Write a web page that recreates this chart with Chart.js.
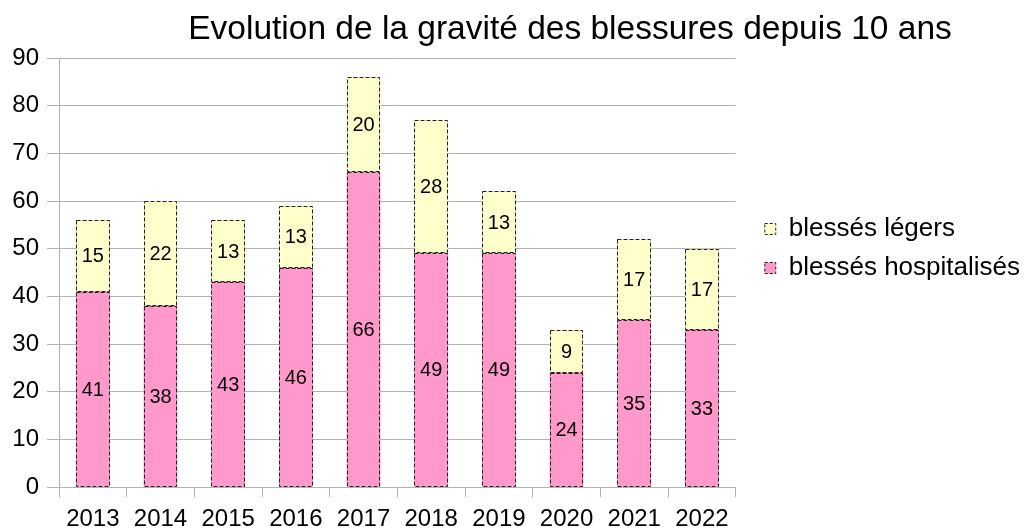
<!DOCTYPE html>
<html>
<head>
<meta charset="utf-8">
<script src="https://cdn.jsdelivr.net/npm/chart.js@4/dist/chart.umd.min.js"></script>
<style>
    html, body { margin: 0; padding: 0; background: #fff; }
    #wrap { width: 1025px; height: 531px; }
</style>
</head>
<body>
<div id="wrap"><canvas id="chart"></canvas></div>
<script>
// ── Data ──────────────────────────────────────────────────────────────────────
const years        = ['2013','2014','2015','2016','2017','2018','2019','2020','2021','2022'];
const hospitalises = [41, 38, 43, 46, 66, 49, 49, 24, 35, 33];
const legers       = [15, 22, 13, 13, 20, 28, 13,  9, 17, 17];
const yTicks       = [0, 10, 20, 30, 40, 50, 60, 70, 80, 90];

const TITLE     = 'Evolution de la gravité des blessures depuis 10 ans';
const FONT      = '"Liberation Sans", Arial, sans-serif';
const GRID      = '#b3b3b3';
const DASH      = [4, 2];
const PINK      = '#ff99cc';
const YELLOW    = '#ffffcc';

// ── Plugins ───────────────────────────────────────────────────────────────────
// dashed outline around each bar segment + value in the middle
const barDecor = {
    id: 'barDecor',
    afterDatasetsDraw(chart) {
        const ctx = chart.ctx;
        ctx.save();
        chart.data.datasets.forEach((ds, i) => {
            const meta = chart.getDatasetMeta(i);
            meta.data.forEach((el, j) => {
                const { x, y, base, width } = el.getProps(['x', 'y', 'base', 'width'], true);
                const left = Math.round(x - width / 2) + 0.5;
                const right = Math.round(x + width / 2) - 0.5;
                const top = Math.round(y) + 0.5;
                const bot = Math.round(base) - 0.5;
                ctx.setLineDash(DASH);
                ctx.lineWidth = 1;
                ctx.strokeStyle = '#222';
                ctx.strokeRect(left, top, right - left, bot - top);

                ctx.setLineDash([]);
                ctx.fillStyle = '#000';
                ctx.font = '20px ' + FONT;
                ctx.textAlign = 'center';
                ctx.textBaseline = 'middle';
                ctx.fillText(String(ds.data[j]), x, (y + base) / 2 + 1);
            });
        });
        ctx.restore();
    }
};

// title centred like the original (slightly right of the canvas centre)
const titleDraw = {
    id: 'titleDraw',
    afterDraw(chart) {
        const ctx = chart.ctx;
        ctx.save();
        ctx.fillStyle = '#000';
        ctx.font = '33.5px ' + FONT;
        ctx.textAlign = 'center';
        ctx.textBaseline = 'alphabetic';
        ctx.fillText(TITLE, 570, 39);
        ctx.restore();
    }
};

// move the legend to where the original has it, and give it room for its text
const legendShift = {
    id: 'legendShift',
    afterLayout(chart) {
        const lg = chart.legend;
        if (!lg) return;
        lg.left += 16;
        lg.right = chart.width;
        lg.width = lg.right - lg.left;
        lg.top -= 46; lg.bottom -= 46;
    }
};

new Chart(document.getElementById('chart'), {
    type: 'bar',
    data: {
        labels: years,
        datasets: [
            {
                label: 'blessés hospitalisés',
                data: hospitalises,
                backgroundColor: PINK,
                borderWidth: 0,
            },
            {
                label: 'blessés légers',
                data: legers,
                backgroundColor: YELLOW,
                borderWidth: 0,
            },
        ],
    },
    options: {
        responsive: true,
        maintainAspectRatio: false,
        animation: false,
        layout: { padding: { top: 58, right: 44, left: 0, bottom: 0 } },
        datasets: { bar: { categoryPercentage: 1, barPercentage: 0.5 } },
        plugins: {
            title: { display: false },
            tooltip: { enabled: false },
            legend: {
                position: 'right',
                reverse: true,
                labels: {
                    color: '#000',
                    font: { family: FONT, size: 26 },
                    boxWidth: 11,
                    boxHeight: 11,
                    padding: 13,
                    generateLabels(chart) {
                        const items = Chart.defaults.plugins.legend.labels.generateLabels(chart);
                        return items.map(it => ({
                            ...it,
                            lineWidth: 1,
                            strokeStyle: '#222',
                            lineDash: [3, 2],
                        }));
                    },
                },
            },
        },
        scales: {
            x: {
                stacked: true,
                afterFit(axis) { axis.height = 44; },
                grid: {
                    offset: true,
                    color: c => (c.index === years.length ? GRID : 'rgba(0,0,0,0)'),
                    tickColor: GRID,
                    tickLength: 10,
                },
                border: { color: GRID },
                ticks: {
                    color: '#000',
                    font: { family: FONT, size: 24 },
                    padding: 8,
                    maxRotation: 0,
                },
            },
            y: {
                stacked: true,
                min: yTicks[0],
                max: yTicks[yTicks.length - 1],
                afterBuildTicks(axis) {
                    axis.ticks = yTicks.map(v => ({ value: v }));
                },
                afterFit(axis) { axis.width = 59; },
                grid: { color: GRID, tickLength: 12 },
                border: { color: GRID },
                ticks: {
                    color: '#000',
                    font: { family: FONT, size: 24 },
                    padding: 8,
                },
            },
        },
    },
    plugins: [barDecor, titleDraw, legendShift],
});
</script>
</body>
</html>
